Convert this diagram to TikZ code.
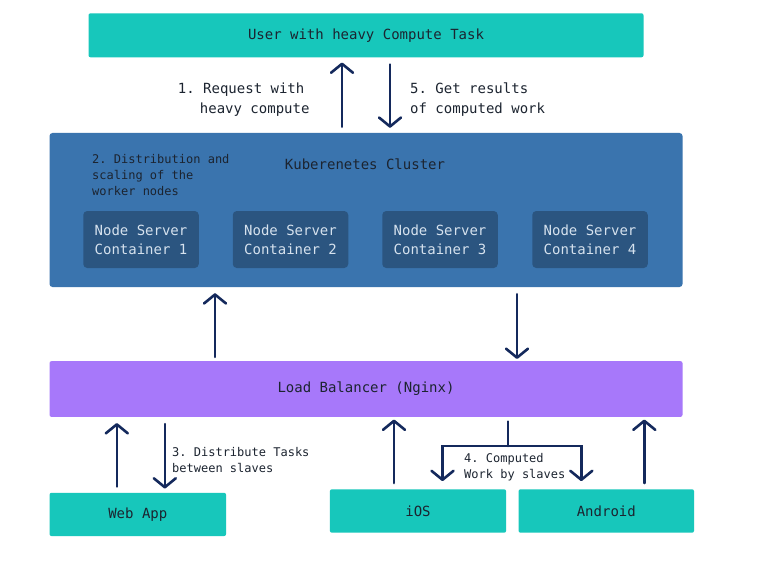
\documentclass[tikz,border=0pt]{standalone}
\usepackage{fontspec}
\setmonofont{DejaVu Sans Mono}
\usetikzlibrary{arrows.meta,positioning}
\definecolor{teal}{HTML}{17C7BB}
\definecolor{cluster}{HTML}{3A74AE}
\definecolor{pod}{HTML}{2B5580}
\definecolor{lbpurple}{HTML}{A778FA}
\definecolor{navy}{HTML}{14295C}
\definecolor{ink}{HTML}{1C2430}
\definecolor{podtext}{HTML}{D6E2EE}

\begin{document}
\begin{tikzpicture}[x=1pt,y=-1pt,
  font=\ttfamily\fontsize{14}{20}\selectfont,
  box/.style={rectangle,rounded corners=2pt,minimum height=44pt,text=ink,inner sep=0pt},
  podbox/.style={rectangle,rounded corners=4pt,fill=pod,text=podtext,
    minimum width=115.5pt,minimum height=57pt,align=left,inner sep=0pt,
    font=\ttfamily\fontsize{14}{19}\selectfont},
  note/.style={anchor=west,align=left,text=ink,inner sep=0pt,
    font=\ttfamily\fontsize{12}{16}\selectfont},
  flow/.style={draw=navy,line width=2.6pt,line cap=round,
    -{Straight Barb[round,length=9pt,width=22pt]}}]
  \useasboundingbox[fill=white] (0,0) rectangle (759,564);
  % top and middle blocks
  \node[box,fill=teal,minimum width=555pt] (user) at (366,35.3) {User with heavy Compute Task};
  \node[box,fill=cluster,rounded corners=3pt,minimum width=633pt,minimum height=154pt] (cluster) at (366,210) {};
  \node[text=ink] (k8s) at (365,164) {Kuberenetes Cluster};
  \node[note] (scale) at (92,175) {2. Distribution and\\scaling of the\\worker nodes};
  \node[podbox] (pod1) at (141,239.5) {Node Server\\Container 1};
  \node[podbox] (pod2) at (290.5,239.5) {Node Server\\Container 2};
  \node[podbox] (pod3) at (440,239.5) {Node Server\\Container 3};
  \node[podbox] (pod4) at (590,239.5) {Node Server\\Container 4};
  \node[box,fill=lbpurple,minimum width=633pt,minimum height=55.7pt] (lb) at (366,389) {Load Balancer (Nginx)};
  % clients
  \node[box,fill=teal,minimum width=176.5pt,minimum height=43.3pt] (web) at (137.8,514.4) {Web App};
  \node[box,fill=teal,minimum width=176.3pt,minimum height=43.4pt] (ios) at (418,511) {iOS};
  \node[box,fill=teal,minimum width=175.5pt,minimum height=43.4pt] (android) at (606.3,511) {Android};

  % user <-> cluster
  \draw[flow,shorten <=6pt,shorten >=5pt] ([xshift=-24pt]cluster.north) -- ([xshift=-24pt]user.south);
  \draw[flow,shorten <=7pt,shorten >=5pt] ([xshift=24pt]user.south) -- ([xshift=24pt]cluster.north);
  \node[anchor=west,align=left,text=ink,inner sep=0pt] (req) at (177.7,100) {1. Request with\\\hspace*{22pt}heavy compute};
  \node[anchor=west,align=left,text=ink,inner sep=0pt] (res) at (410,100) {5. Get results\\of computed work};

  % cluster <-> load balancer
  \draw[flow,shorten <=4pt,shorten >=6pt] ([xshift=-151pt]lb.north) -- ([xshift=-151pt]cluster.south);
  \draw[flow,shorten <=7pt,shorten >=2pt] ([xshift=151pt]cluster.south) -- ([xshift=151pt]lb.north);

  % load balancer <-> clients
  \draw[flow,shorten <=6pt,shorten >=6pt] ([xshift=-21pt]web.north) -- ([xshift=-21pt]web.north |- lb.south);
  \draw[flow,shorten <=7pt,shorten >=4pt] ([xshift=27pt]web.north |- lb.south) -- ([xshift=27pt]web.north);
  \node[note] (dist) at (172,459.7) {3. Distribute Tasks\\between slaves};
  \draw[flow,shorten <=6pt,shorten >=2.5pt] ([xshift=-24pt]ios.north) -- ([xshift=-24pt]ios.north |- lb.south);
  \draw[flow,shorten <=6pt,shorten >=2.5pt] ([xshift=38pt]android.north) -- ([xshift=38pt]android.north |- lb.south);
  \coordinate (fork) at (508,446);
  \draw[draw=navy,line width=2.6pt,line cap=round,shorten <=4.5pt] (fork |- lb.south) -- (fork);
  \draw[flow,shorten >=8pt] (fork) -| ([xshift=24.5pt]ios.north);
  \draw[flow,shorten >=8pt] (fork) -| ([xshift=-25pt]android.north);
  \node[note] (done) at (464,467) {4. Computed\\Work by slaves};
\end{tikzpicture}
\end{document}
